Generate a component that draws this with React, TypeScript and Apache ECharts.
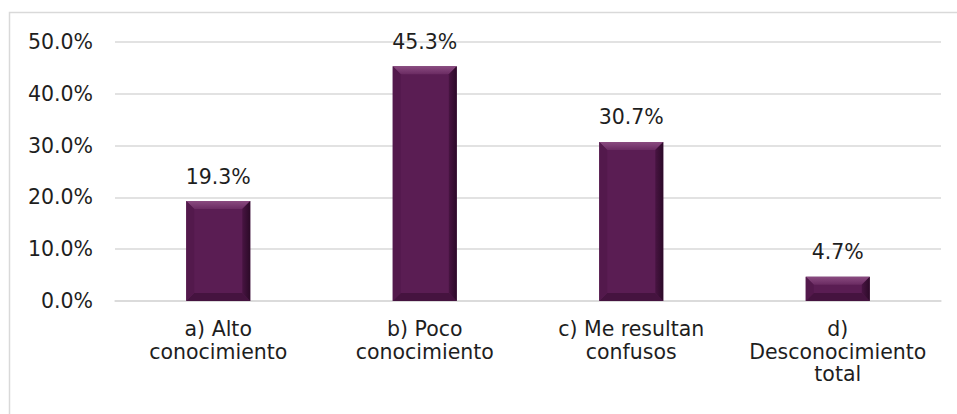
import React, { useEffect, useRef } from "react";
import * as echarts from "echarts";

const categories = [
  "a) Alto\nconocimiento",
  "b) Poco\nconocimiento",
  "c) Me resultan\nconfusos",
  "d)\nDesconocimiento\ntotal",
];
const values = [19.3, 45.3, 30.7, 4.7];
const yMin = 0;
const yMax = 50;
const yInterval = 10;

const FONT = "DejaVu Sans";
const FS = 20.5;
const TEXT = "#1e1e1e";
const GRID = "#d9d9d9";

export default function App() {
  const ref = useRef<HTMLDivElement>(null);
  useEffect(() => {
    if (!ref.current) return;
    const chart = echarts.init(ref.current, null, { renderer: "svg" });
    const barW = 64;
    chart.setOption({
      animation: false,
      backgroundColor: "#ffffff",
      graphic: [
        {
          type: "rect",
          silent: true,
          shape: { x: 9.5, y: 12.5, width: 1000, height: 500 },
          style: { fill: "none", stroke: GRID, lineWidth: 1.5 },
        },
      ],
      grid: { left: 115, right: 16, top: 42, bottom: 113, containLabel: false },
      xAxis: {
        type: "category",
        data: categories,
        axisTick: { show: false },
        axisLine: { show: true, lineStyle: { color: GRID, width: 1.5 } },
        axisLabel: {
          color: TEXT,
          fontFamily: FONT,
          fontSize: FS,
          lineHeight: 22.5,
          margin: 17,
          interval: 0,
        },
      },
      yAxis: {
        type: "value",
        min: yMin,
        max: yMax,
        interval: yInterval,
        axisLine: { show: false },
        axisTick: { show: false },
        splitLine: { lineStyle: { color: GRID, width: 1.5 } },
        axisLabel: {
          color: TEXT,
          fontFamily: FONT,
          fontSize: FS,
          margin: 22,
          formatter: (v: number) => v.toFixed(1) + "%",
        },
      },
      series: [
        {
          type: "custom",
          data: values.map((v, i) => [i, v]),
          encode: { x: 0, y: 1 },
          renderItem: (params: any, api: any) => {
            const idx = api.value(0);
            const val = api.value(1);
            const top = api.coord([idx, val]);
            const base = api.coord([idx, 0]);
            const cx = top[0];
            const x0 = cx - barW / 2;
            const x1 = cx + barW / 2;
            const y0 = top[1];
            const y1 = base[1];
            const b = Math.min(8, (y1 - y0) / 2);
            return {
              type: "group",
              children: [
                {
                  type: "rect",
                  shape: { x: x0, y: y0, width: barW, height: y1 - y0 },
                  style: { fill: "#5a1d53" },
                },
                {
                  type: "polygon",
                  shape: { points: [[x0, y0], [x1, y0], [x1 - b, y0 + b], [x0 + b, y0 + b]] },
                  style: {
                    fill: new echarts.graphic.LinearGradient(0, 0, 0, 1, [
                      { offset: 0, color: "#8a4b80" },
                      { offset: 1, color: "#6a2b62" },
                    ]),
                  },
                },
                {
                  type: "polygon",
                  shape: { points: [[x0, y1], [x1, y1], [x1 - b, y1 - b], [x0 + b, y1 - b]] },
                  style: { fill: "#45133f" },
                },
                {
                  type: "polygon",
                  shape: { points: [[x0, y0], [x0 + b, y0 + b], [x0 + b, y1 - b], [x0, y1]] },
                  style: { fill: "#53194c" },
                },
                {
                  type: "polygon",
                  shape: { points: [[x1, y0], [x1 - b, y0 + b], [x1 - b, y1 - b], [x1, y1]] },
                  style: {
                    fill: new echarts.graphic.LinearGradient(0, 0, 1, 0, [
                      { offset: 0, color: "#481442" },
                      { offset: 1, color: "#2c0a28" },
                    ]),
                  },
                },
                {
                  type: "text",
                  style: {
                    text: val.toFixed(1) + "%",
                    x: cx,
                    y: y0 - 14,
                    textAlign: "center",
                    textVerticalAlign: "bottom",
                    fontFamily: FONT,
                    fontSize: FS,
                    fill: TEXT,
                  },
                },
              ],
            };
          },
        },
      ],
    });
    return () => chart.dispose();
  }, []);
  return (
    <div
      ref={ref}
      style={{ position: "fixed", left: 0, top: 0, width: 957, height: 414 }}
    />
  );
}
